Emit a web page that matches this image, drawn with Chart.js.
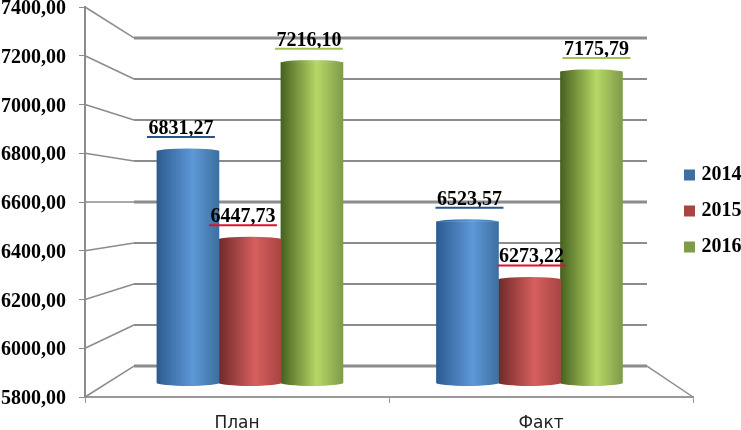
<!DOCTYPE html>
<html>
<head>
<meta charset="utf-8">
<style>
  html, body { margin: 0; padding: 0; background: #fff; }
  canvas { display: block; }
</style>
<script src="https://cdn.jsdelivr.net/npm/chart.js@4"></script>
</head>
<body>
<canvas id="myChart" width="741" height="430"></canvas>
<script>
// data
const categories = ["План", "Факт"];
const years = ["2014", "2015", "2016"];
const values2014 = [6831.27, 6523.57];
const values2015 = [6447.73, 6273.22];
const values2016 = [7216.10, 7175.79];

const serif = "'Liberation Serif', serif";
const fmt = v => v.toFixed(2).replace(".", ",");

// [solid, left edge, highlight, right edge, underline]
const colors = [
  ["#4f81bd", "#2b5c90", "#5e98d8", "#3d709f", "#27558c"],
  ["#c0504d", "#6f2a2a", "#d65f5d", "#a84543", "#e0102c"],
  ["#9bbb59", "#46611f", "#b6d866", "#7f9b48", "#a6c24e"]
];
const seriesValues = [values2014, values2015, values2016];

// nudges of the value labels from the middle of each bar
const labelShift = [[-7, 2], [-7, 2], [-3, 5]];

const barWidth = 62;

function cylinder(c, i) {
  if (c.type !== "data") return colors[i][0];
  const xs = c.chart.scales.xBar;
  if (!c.chart.chartArea || !xs || !xs.getPixelForValue) return colors[i][0];
  const mid = xs.getPixelForValue(c.dataIndex) + (i - 1) * barWidth;
  const g = c.chart.ctx.createLinearGradient(mid - barWidth / 2, 0, mid + barWidth / 2, 0);
  g.addColorStop(0, colors[i][1]);
  g.addColorStop(0.58, colors[i][2]);
  g.addColorStop(1, colors[i][3]);
  return g;
}

const wallPlugin = {
  id: "wall",
  beforeDatasetsDraw(chart) {
    const { ctx, chartArea, scales } = chart;
    const left = chartArea.left, right = chartArea.right;
    const backL = left + 49, backR = right - 46;
    ctx.save();
    ctx.strokeStyle = "#8c8c8c";
    scales.y.ticks.forEach((t, i) => {
      const yF = scales.y.getPixelForValue(t.value);
      const yB = scales.yBack.getPixelForValue(t.value);
      ctx.lineWidth = 1.5;
      ctx.beginPath();
      ctx.moveTo(left, yF);
      ctx.lineTo(backL, yB);
      ctx.stroke();
      ctx.lineWidth = i % 4 === 0 ? 3 : 2;
      ctx.beginPath();
      ctx.moveTo(backL, yB);
      ctx.lineTo(backR, yB);
      ctx.stroke();
    });
    // floor, right side
    const yF = scales.y.getPixelForValue(5800);
    const yB = scales.yBack.getPixelForValue(5800);
    ctx.lineWidth = 1.5;
    ctx.beginPath();
    ctx.moveTo(backR, yB);
    ctx.lineTo(right, yF);
    ctx.stroke();
    ctx.restore();
  },
  afterDatasetsDraw(chart) {
    const { ctx } = chart;
    // round top and bottom of the cylinders
    chart.data.datasets.forEach((ds, i) => {
      chart.getDatasetMeta(i).data.forEach(el => {
        const w = el.width;
        ctx.save();
        ctx.fillStyle = el.options.backgroundColor;
        ctx.beginPath();
        ctx.ellipse(el.x, el.base, w / 2, 3, 0, 0, Math.PI);
        ctx.fill();
        ctx.beginPath();
        ctx.ellipse(el.x, el.y, w / 2, 2.5, 0, Math.PI, Math.PI * 2);
        ctx.fill();
        ctx.restore();
      });
    });
    // value labels with a coloured underline
    chart.data.datasets.forEach((ds, i) => {
      chart.getDatasetMeta(i).data.forEach((el, j) => {
        const x = el.x + labelShift[i][j];
        const y = el.y - 17;
        const txt = fmt(seriesValues[i][j]);
        ctx.save();
        ctx.font = "bold 20px " + serif;
        ctx.fillStyle = "#000";
        ctx.textAlign = "center";
        ctx.textBaseline = "alphabetic";
        ctx.fillText(txt, x, y);
        ctx.strokeStyle = colors[i][4];
        ctx.lineWidth = 2;
        ctx.beginPath();
        ctx.moveTo(x - 34, y + 3);
        ctx.lineTo(x + 34, y + 3);
        ctx.stroke();
        ctx.restore();
      });
    });
  },
  afterLayout(chart) {
    // legend overlaps the end of the floor
    chart.legend.left = 671.5;
    chart.legend.right = 741;
    chart.legend.top = 149;
  }
};

new Chart(document.getElementById("myChart").getContext("2d"), {
  type: "bar",
  data: {
    labels: categories,
    datasets: years.map((year, i) => ({
      label: year,
      data: seriesValues[i].map((v, j) => ({ x: j, y: v })),
      backgroundColor: c => cylinder(c, i),
      base: 5823,
      xAxisID: "xBar",
      yAxisID: "yBar",
      barThickness: barWidth
    }))
  },
  options: {
    responsive: false,
    animation: false,
    layout: { padding: { top: 7, left: 0, right: 0, bottom: 0 } },
    plugins: {
      tooltip: { enabled: false },
      legend: {
        position: "right",
        align: "start",
        maxWidth: 48,
        labels: {
          color: "#000",
          font: { family: serif, size: 20, weight: "bold" },
          usePointStyle: true,
          pointStyle: "rect",
          boxWidth: 4,
          boxHeight: 11,
          padding: 16
        }
      }
    },
    scales: {
      x: {
        type: "category",
        labels: categories,
        offset: true,
        afterFit(s) { s.height = 33; s.paddingLeft = 0; s.paddingRight = 0; },
        border: { color: "#999", width: 2 },
        grid: { drawOnChartArea: false, color: "#999", tickLength: 6, offset: true },
        ticks: { color: "#222", font: { family: "'DejaVu Sans'", size: 17 }, padding: 10 }
      },
      // bars stand in the middle of the fake 3d box
      xBar: {
        type: "linear",
        display: false,
        offset: false,
        min: -0.59,
        max: 1.585
      },
      y: {
        position: "left",
        min: 5800,
        max: 7400,
        afterFit(s) { s.width = 85; s.paddingTop = 0; s.paddingBottom = 0; },
        border: { color: "#8c8c8c", width: 2 },
        grid: { drawOnChartArea: false, color: "#8c8c8c", tickLength: 6 },
        ticks: {
          stepSize: 200,
          padding: 13,
          labelOffset: 2,
          color: "#000",
          font: { family: serif, size: 20, weight: "bold" },
          callback: v => fmt(v)
        }
      },
      yBar: { position: "left", display: false, min: 5762, max: 7458 },
      yBack: { position: "left", display: false, min: 5649, max: 7551 }
    }
  },
  plugins: [wallPlugin]
});
</script>
</body>
</html>
